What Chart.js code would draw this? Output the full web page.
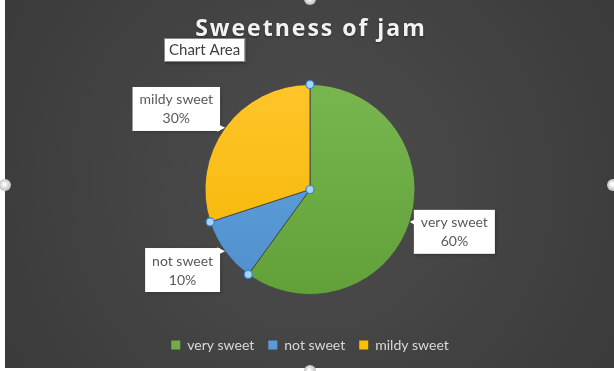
<!DOCTYPE html>
<html>
<head>
<meta charset="utf-8">
<script src="https://cdn.jsdelivr.net/npm/chart.js@4.4.1/dist/chart.umd.min.js"></script>
<style>
  html, body { margin: 0; padding: 0; background: #ffffff; }
  #wrap { position: relative; width: 614px; height: 371px; }
</style>
</head>
<body>
<div id="wrap"><canvas id="chart" width="614" height="371"></canvas></div>
<script>
// chart data
const categories = ['very sweet', 'not sweet', 'mildy sweet'];
const shares = [60, 10, 30];
const sliceColors = ['#70ad47', '#5b9bd5', '#ffc000'];
const sliceTops = ['#78b650', '#65a6e0', '#ffc52a'];
const sliceBottoms = ['#62a13a', '#4f90cc', '#f2b500'];
const chartTitle = 'Sweetness of jam';
const hoverTip = 'Chart Area';

const LABEL_FONT = '14px Lato';

// dark frame + spaced-out title, drawn before everything else
const backdrop = {
  id: 'backdrop',
  beforeDraw(chart) {
    const { ctx, width, height } = chart;
    ctx.save();
    ctx.fillStyle = '#ffffff';
    ctx.fillRect(0, 0, width, height);
    const g = ctx.createRadialGradient(310, 185, 20, 310, 185, 360);
    g.addColorStop(0, '#4c4c4c');
    g.addColorStop(1, '#3a3a3a');
    ctx.fillStyle = g;
    ctx.fillRect(5, 0, width - 5, height - 3);

    ctx.font = 'bold 23px "Open Sans"';
    ctx.letterSpacing = '2px';
    ctx.fillStyle = '#f2f2f2';
    ctx.textAlign = 'center';
    ctx.textBaseline = 'alphabetic';
    ctx.shadowColor = 'rgba(0,0,0,0.4)';
    ctx.shadowBlur = 2;
    ctx.shadowOffsetY = 1;
    ctx.fillText(chartTitle, 311, 36);
    ctx.restore();
  }
};

// data labels in white callouts + selection handles
const callouts = {
  id: 'callouts',
  afterDraw(chart) {
    const { ctx } = chart;
    const arcs = chart.getDatasetMeta(0).data;
    const total = shares.reduce((a, b) => a + b, 0);
    ctx.save();
    ctx.font = LABEL_FONT;
    arcs.forEach((arc, i) => {
      const { x, y, outerRadius, startAngle, endAngle } = arc.getProps(['x', 'y', 'outerRadius', 'startAngle', 'endAngle'], true);
      const mid = (startAngle + endAngle) / 2;
      const dx = Math.cos(mid), dy = Math.sin(mid);
      const ax = x + outerRadius * dx, ay = y + outerRadius * dy;
      const lines = [categories[i], Math.round(shares[i] / total * 100) + '%'];
      const tw = Math.max(...lines.map(l => ctx.measureText(l).width));
      const bw = tw + 14, bh = 44;
      const left = dx > 0 ? ax + 4 : ax - 5 - bw;
      const top = ay + dy * 32 - bh / 2;
      // closest point of box to anchor, for the pointer
      const px = Math.min(Math.max(ax, left), left + bw);
      const py = Math.min(Math.max(ay, top), top + bh);
      let vx = ax - px, vy = ay - py;
      const len = Math.hypot(vx, vy) || 1;
      vx /= len; vy /= len;
      ctx.shadowColor = 'rgba(0,0,0,0.35)';
      ctx.shadowBlur = 3;
      ctx.shadowOffsetX = 1;
      ctx.shadowOffsetY = 1;
      ctx.fillStyle = '#ffffff';
      ctx.fillRect(left, top, bw, bh);
      ctx.shadowColor = 'transparent';
      ctx.beginPath();
      ctx.moveTo(ax, ay);
      ctx.lineTo(px - vy * 4 - vx * 3, py + vx * 4 - vy * 3);
      ctx.lineTo(px + vy * 4 - vx * 3, py - vx * 4 - vy * 3);
      ctx.closePath();
      ctx.fill();
      ctx.fillStyle = '#595959';
      ctx.textAlign = 'center';
      ctx.textBaseline = 'middle';
      ctx.fillText(lines[0], left + bw / 2, top + bh / 2 - 9);
      ctx.fillText(lines[1], left + bw / 2, top + bh / 2 + 10);
    });

    // selection handles on the pie
    const first = arcs[0].getProps(['x', 'y', 'outerRadius'], true);
    const pts = [[first.x, first.y]];
    arcs.forEach(arc => {
      const p = arc.getProps(['x', 'y', 'outerRadius', 'startAngle'], true);
      pts.push([p.x + p.outerRadius * Math.cos(p.startAngle), p.y + p.outerRadius * Math.sin(p.startAngle)]);
    });
    pts.forEach(([hx, hy]) => {
      ctx.beginPath();
      ctx.arc(hx, hy, 4, 0, Math.PI * 2);
      ctx.fillStyle = '#a9d3f5';
      ctx.fill();
      ctx.lineWidth = 1.2;
      ctx.strokeStyle = '#2e86d6';
      ctx.stroke();
    });

    // chart area handles on the frame
    [[5, 185], [310, -1], [310, 371], [613, 185]].forEach(([hx, hy]) => {
      const g = ctx.createRadialGradient(hx - 1, hy - 1, 1, hx, hy, 6);
      g.addColorStop(0, '#ffffff');
      g.addColorStop(1, '#bdbdbd');
      ctx.beginPath();
      ctx.arc(hx, hy, 6, 0, Math.PI * 2);
      ctx.fillStyle = g;
      ctx.fill();
    });

    // "Chart Area" hover tip
    ctx.font = '15px Lato';
    const tipW = ctx.measureText(hoverTip).width + 10;
    ctx.shadowColor = 'rgba(0,0,0,0.4)';
    ctx.shadowBlur = 3;
    ctx.shadowOffsetX = 1;
    ctx.shadowOffsetY = 1;
    ctx.fillStyle = '#ffffff';
    ctx.fillRect(164, 38, tipW, 24);
    ctx.shadowColor = 'transparent';
    ctx.strokeStyle = '#8c8c8c';
    ctx.lineWidth = 1;
    ctx.strokeRect(164.5, 38.5, tipW - 1, 23);
    ctx.fillStyle = '#404040';
    ctx.textAlign = 'left';
    ctx.textBaseline = 'middle';
    ctx.fillText(hoverTip, 169, 50);
    ctx.restore();
  }
};

function sliceFill(context) {
  const chart = context.chart;
  const i = context.dataIndex;
  const area = chart.chartArea;
  if (!area) return sliceColors[i];
  const g = chart.ctx.createLinearGradient(0, 84, 0, 294);
  g.addColorStop(0, sliceTops[i]);
  g.addColorStop(1, sliceBottoms[i]);
  return g;
}

new Chart(document.getElementById('chart'), {
  type: 'pie',
  data: {
    labels: categories,
    datasets: [{
      data: shares,
      backgroundColor: sliceFill,
      borderColor: 'rgba(70,70,70,0.9)',
      borderWidth: 1,
      radius: 105
    }]
  },
  options: {
    responsive: false,
    animation: false,
    events: [],
    layout: { padding: { left: 6, right: 0, top: 55, bottom: 9 } },
    plugins: {
      title: { display: false },
      legend: {
        position: 'bottom',
        labels: {
          color: '#d9d9d9',
          font: { family: 'Lato', size: 14 },
          boxWidth: 9,
          boxHeight: 9,
          padding: 14,
          generateLabels(chart) {
            return categories.map((c, i) => ({
              text: c,
              fillStyle: sliceColors[i],
              strokeStyle: sliceColors[i],
              lineWidth: 0,
              fontColor: '#d9d9d9',
              hidden: false,
              index: i
            }));
          }
        }
      },
      tooltip: { enabled: false }
    }
  },
  plugins: [backdrop, callouts]
});
</script>
</body>
</html>
